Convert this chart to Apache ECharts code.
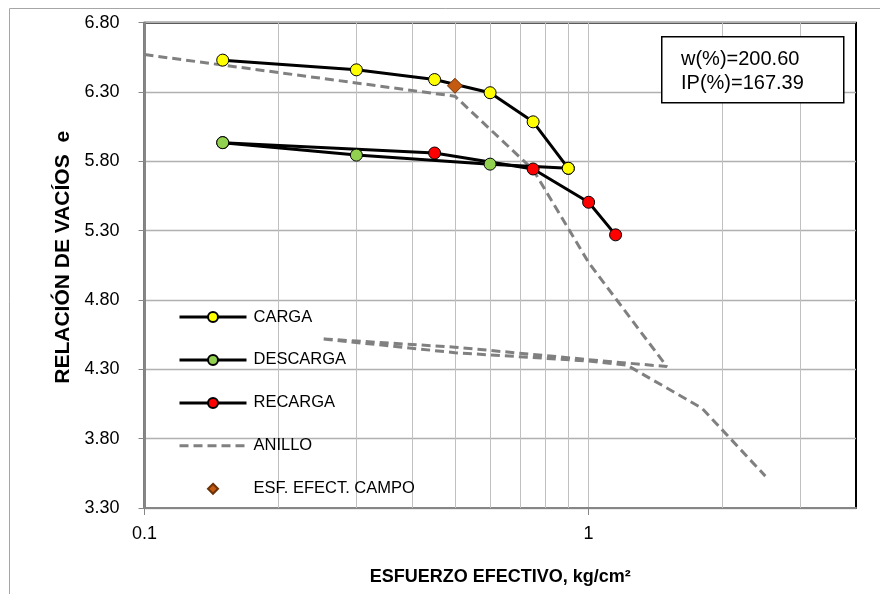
<!DOCTYPE html>
<html>
<head>
<meta charset="utf-8">
<script src="https://cdn.jsdelivr.net/npm/echarts@6/dist/echarts.min.js"></script>
<style>
html,body{margin:0;padding:0;background:#fff;}
#chart{width:880px;height:594px;}
</style>
</head>
<body>
<div id="chart"></div>
<script>
// ---- data ----
const xCarga = [0.15, 0.3, 0.45, 0.6, 0.75, 0.9];
const eCarga = [6.53, 6.46, 6.39, 6.295, 6.085, 5.75];

const xDescarga = [0.9, 0.6, 0.3, 0.15];
const eDescarga = [5.75, 5.78, 5.845, 5.935];

const xRecarga = [0.15, 0.45, 0.75, 1.0, 1.15];
const eRecarga = [5.935, 5.86, 5.745, 5.505, 5.27];

const xAnillo = [0.1, 0.5, 0.75, 1.0, 1.5, 1.0, 0.5, 0.25, 0.5, 1.0, 1.22, 1.8, 2.5];
const eAnillo = [6.57, 6.27, 5.74, 5.07, 4.32, 4.37, 4.46, 4.52, 4.42, 4.36, 4.33, 4.02, 3.53];

const xCampo = [0.5];
const eCampo = [6.345];

const xMajorLabels = [0.1, 1];
const xMinorGrid = [0.2, 0.3, 0.4, 0.5, 0.6, 0.7, 0.8, 0.9, 2, 3];
const yMin = 3.3, yMax = 6.8, yStep = 0.5;
const xMin = 0.1, xMax = 4;

const wPct = '200.60';
const ipPct = '167.39';

const names = ['CARGA', 'DESCARGA', 'RECARGA', 'ANILLO', 'ESF. EFECT. CAMPO'];

// ---- build ----
const zip = (xs, ys) => xs.map((x, i) => [x, ys[i]]);
const FONT = 'Liberation Sans';

const circleSeries = (name, xs, ys, color) => ({
  name, type: 'line', data: zip(xs, ys),
  symbol: 'circle', symbolSize: 12,
  lineStyle: { color: '#000', width: 3 },
  itemStyle: { color: color, borderColor: '#000', borderWidth: 1 },
  z: 3
});

const legendData = names.map(n => {
  if (n === 'ANILLO') return { name: n, itemStyle: { opacity: 0 }, lineStyle: { width: 3 } };
  if (n === 'ESF. EFECT. CAMPO') return { name: n };
  return { name: n, lineStyle: { width: 3 } };
});

const chart = echarts.init(document.getElementById('chart'), null, { renderer: 'canvas' });
chart.setOption({
  animation: false,
  backgroundColor: '#fff',
  textStyle: { fontFamily: FONT },
  grid: {
    left: 144.5, top: 22.7, right: 24, bottom: 86,
    show: true, borderColor: '#000', borderWidth: 2, backgroundColor: 'transparent'
  },
  xAxis: {
    type: 'log', logBase: 10, min: xMin, max: xMax,
    name: 'ESFUERZO EFECTIVO, kg/cm²', nameLocation: 'middle', nameGap: 60,
    nameTextStyle: { fontFamily: FONT, fontSize: 18, fontWeight: 'bold', color: '#000' },
    axisLine: { show: true, lineStyle: { color: '#868686', width: 2 } },
    axisTick: { show: true, length: 7, lineStyle: { color: '#868686', width: 1 }, customValues: xMajorLabels },
    axisLabel: {
      fontFamily: FONT, fontSize: 18, color: '#000', margin: 17,
      formatter: v => (Math.abs(v - 0.1) < 1e-9 ? '0.1' : (Math.abs(v - 1) < 1e-9 ? '1' : ''))
    },
    splitLine: { show: true, lineStyle: { color: '#c0c0c0', width: 1 } },
    minorTick: { show: false }, minorSplitLine: { show: false }
  },
  yAxis: {
    type: 'value', min: yMin, max: yMax, interval: yStep,
    name: 'RELACIÓN DE VACÍOS  e', nameLocation: 'middle', nameGap: 71, nameRotate: 90,
    nameTextStyle: { fontFamily: FONT, fontSize: 21, fontWeight: 'bold', color: '#000', padding: [0, 0, 0, 16] },
    axisLine: { show: true, lineStyle: { color: '#868686', width: 2 } },
    axisTick: { show: true, length: 6, lineStyle: { color: '#868686', width: 1 } },
    axisLabel: { fontFamily: FONT, fontSize: 18, color: '#000', margin: 25, formatter: v => v.toFixed(2) },
    splitLine: { show: true, lineStyle: { color: '#b0b0b0', width: 1.3 } }
  },
  legend: {
    orient: 'vertical', left: 178, top: 308.5, padding: 0,
    itemWidth: 67, itemHeight: 12.5, itemGap: 25.95,
    selectedMode: false,
    data: legendData,
    textStyle: { fontFamily: FONT, fontSize: 16.5, color: '#000', padding: [0, 0, 0, 2] }
  },
  series: [
    {
      name: 'ANILLO', type: 'line', data: zip(xAnillo, eAnillo),
      symbol: 'none',
      lineStyle: { color: '#808080', width: 3, type: [9, 5] },
      itemStyle: { color: '#808080' },
      z: 2,
      markLine: {
        silent: true, symbol: 'none', z: 1,
        label: { show: false },
        lineStyle: { color: '#c0c0c0', width: 1, type: 'solid' },
        emphasis: { disabled: true },
        data: xMinorGrid.map(v => ({ xAxis: v }))
      }
    },
    circleSeries('RECARGA', xRecarga, eRecarga, '#ff0000'),
    circleSeries('DESCARGA', xDescarga, eDescarga, '#92d050'),
    circleSeries('CARGA', xCarga, eCarga, '#ffff00'),
    {
      name: 'ESF. EFECT. CAMPO', type: 'line', data: zip(xCampo, eCampo),
      symbol: 'diamond', symbolSize: 15,
      lineStyle: { width: 0, opacity: 0 },
      itemStyle: { color: '#c55a11', borderColor: '#6b3208', borderWidth: 1 },
      z: 4
    }
  ],
  graphic: [
    { type: 'rect', left: 7, top: 6, shape: { width: 900, height: 620 }, style: { fill: 'none', stroke: '#a6a6a6', lineWidth: 1 }, silent: true, z: -1 },
    { type: 'rect', left: 661, top: 36, shape: { width: 182, height: 66 }, style: { fill: '#fff', stroke: '#000', lineWidth: 1.5 }, z: 10 },
    { type: 'text', left: 681, top: 47, style: { text: 'w(%)=' + wPct + '\nIP(%)=' + ipPct, font: '20px "Liberation Sans"', lineHeight: 24, fill: '#000' }, z: 11 }
  ]
});
</script>
</body>
</html>
